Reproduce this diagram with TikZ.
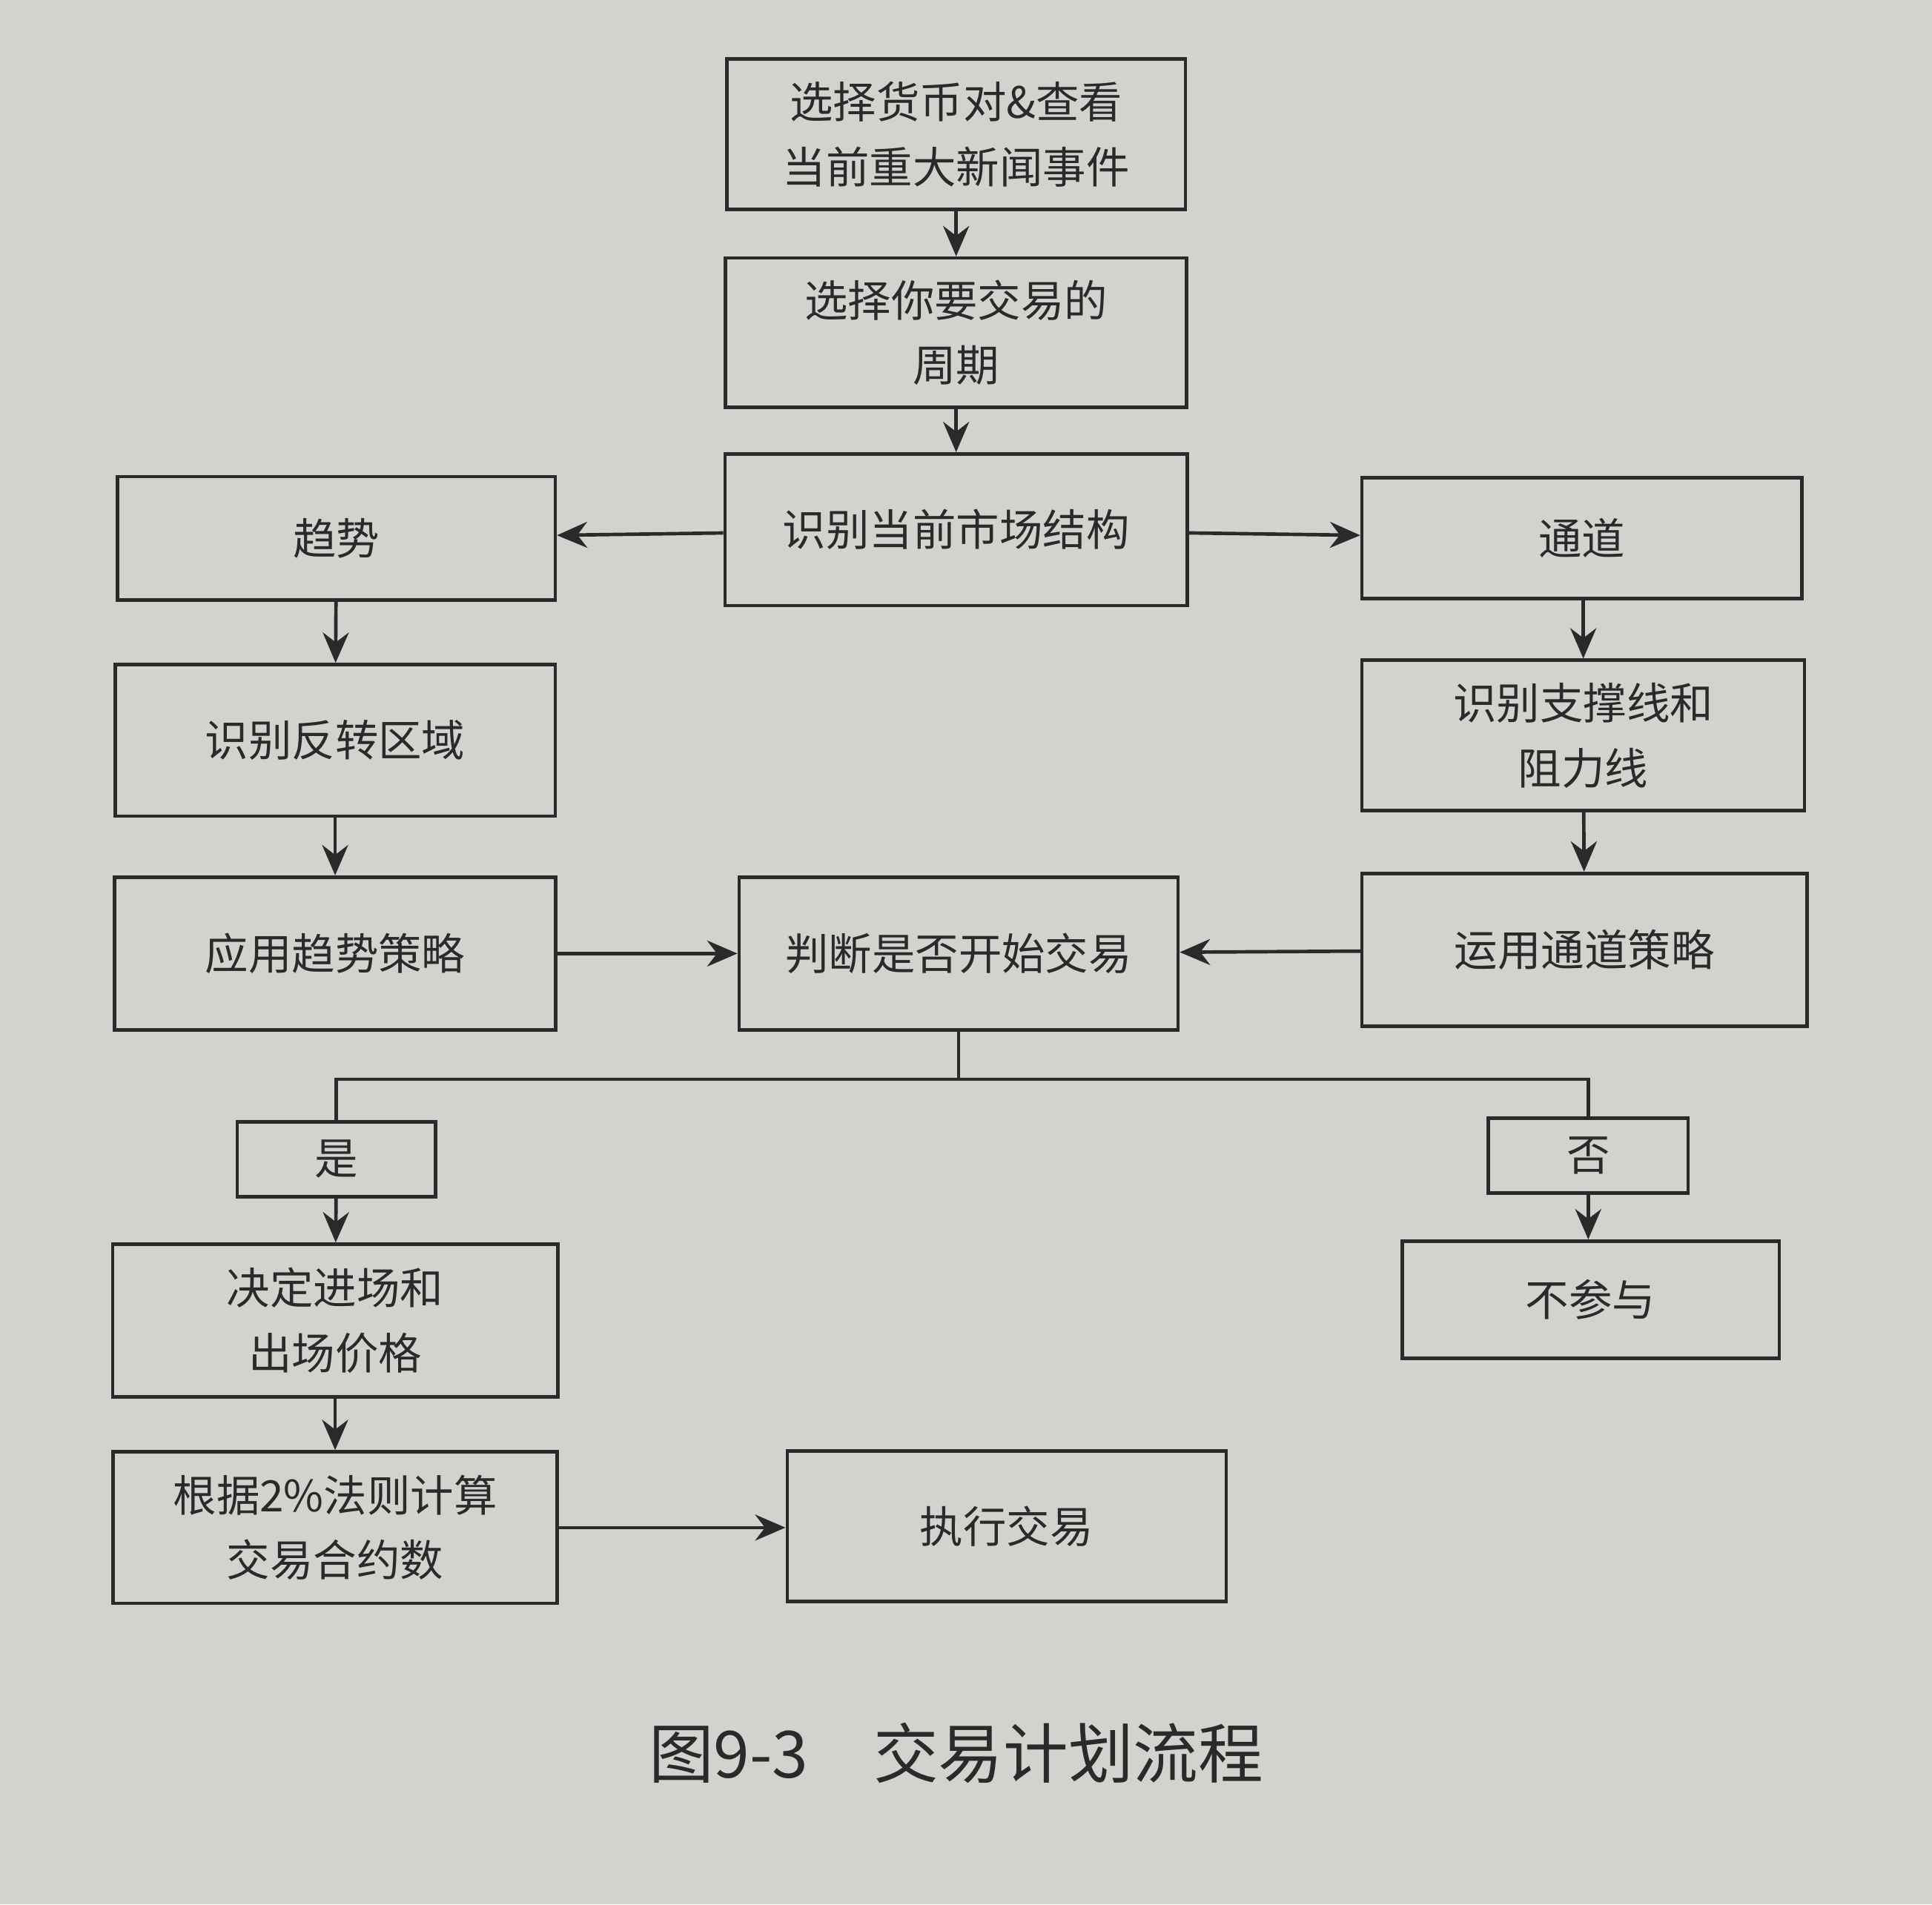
\documentclass[tikz,border=0pt]{standalone}
\usepackage{fontspec}
\setmainfont{Noto Sans CJK SC}
\usetikzlibrary{arrows.meta}
\definecolor{bg}{HTML}{D2D2CE}
\definecolor{ink}{HTML}{2A2A2A}
\begin{document}
\begin{tikzpicture}[x=0.01cm,y=-0.01cm,
  box/.style={draw=ink,line width=0.8pt,inner sep=0pt,align=center,text=ink,font=\fontsize{10}{15}\selectfont},
  arr/.style={draw=ink,line width=0.8pt,-{Stealth[length=7pt,width=6pt]}},
  ln/.style={draw=ink,line width=0.8pt}]
\fill[bg] (0,0) rectangle (1568,1546);
\useasboundingbox (0,0) rectangle (1568,1546);
\node[box,minimum width=3.72cm,minimum height=1.22cm] (a) at (776,109) {选择货币对\&查看\\当前重大新闻事件};
\node[box,minimum width=3.74cm,minimum height=1.21cm] (b) at (776,270) {选择你要交易的\\周期};
\node[box,minimum width=3.75cm,minimum height=1.23cm] (c) at (776,430) {识别当前市场结构};
\node[box,minimum width=3.55cm,minimum height=1.0cm] (t) at (273,437) {趋势};
\node[box,minimum width=3.57cm,minimum height=0.98cm] (ch) at (1284,437) {通道};
\node[box,minimum width=3.57cm,minimum height=1.23cm] (r) at (272,601) {识别反转区域};
\node[box,minimum width=3.59cm,minimum height=1.22cm] (sr) at (1285,597) {识别支撑线和\\阻力线};
\node[box,minimum width=3.58cm,minimum height=1.24cm] (ts) at (272,774) {应用趋势策略};
\node[box,minimum width=3.56cm,minimum height=1.24cm] (j) at (778,774) {判断是否开始交易};
\node[box,minimum width=3.61cm,minimum height=1.24cm] (cs) at (1286,771) {运用通道策略};
\node[box,minimum width=1.61cm,minimum height=0.61cm] (y) at (273,941) {是};
\node[box,minimum width=1.62cm,minimum height=0.61cm] (n) at (1289,938) {否};
\node[box,minimum width=3.61cm,minimum height=1.24cm] (d) at (272,1072) {决定进场和\\出场价格};
\node[box,minimum width=3.06cm,minimum height=0.95cm] (np) at (1291,1055) {不参与};
\node[box,minimum width=3.60cm,minimum height=1.23cm] (k) at (272,1240) {根据2\%法则计算\\交易合约数};
\node[box,minimum width=3.56cm,minimum height=1.22cm] (e) at (817,1239) {执行交易};
\node[text=ink,font=\fontsize{15}{18}\selectfont] (cap) at (776,1423) {图9-3\quad 交易计划流程};
\draw[arr] (a) -- (b);
\draw[arr] (b) -- (c);
\draw[arr] (c) -- (t);
\draw[arr] (c) -- (ch);
\draw[arr] (t) -- (r);
\draw[arr] (r) -- (ts);
\draw[arr] (ch.south -| sr) -- (sr);
\draw[arr] (sr) -- (cs);
\draw[arr] (ts) -- (j);
\draw[arr] (cs) -- (j);
\coordinate (m) at (778,876);
\draw[ln] (j.south) -- (m) -| (y.north);
\draw[ln] (m) -| (n.north);
\draw[arr] (y) -- (d);
\draw[arr] (n) -- (n |- np.north);
\draw[arr] (d) -- (k);
\draw[arr] (k) -- (k -| e.west);
\end{tikzpicture}
\end{document}
